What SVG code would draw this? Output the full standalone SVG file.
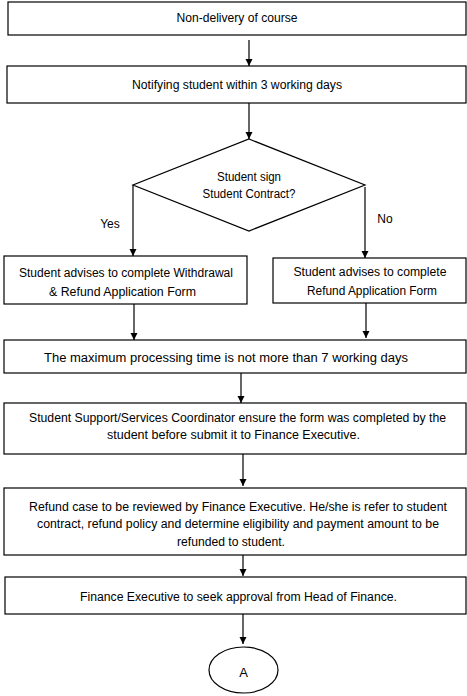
<svg xmlns="http://www.w3.org/2000/svg" width="467" height="696" viewBox="0 0 467 696">
<style>
.b{fill:#fff;stroke:#000;stroke-width:1.2}
.t{font-family:"Liberation Sans",Arial,sans-serif;font-size:12px;fill:#000;text-anchor:middle}
.c line{stroke:#000;stroke-width:1.2}
</style>
<defs>
<marker id="ah" viewBox="0 0 10 10" refX="10" refY="5" markerWidth="7" markerHeight="8" markerUnits="userSpaceOnUse" orient="auto">
<path d="M0,0 L10,5 L0,10 z" fill="#000"/>
</marker>
</defs>
<rect width="467" height="696" fill="#fff"/>
<g id="n1"><rect class="b" x="8" y="2" width="458" height="33"/><text class="t" x="237" y="22" textLength="121" lengthAdjust="spacingAndGlyphs">Non-delivery of course</text></g>
<g id="n2"><rect class="b" x="7" y="66" width="459" height="37"/><text class="t" x="237" y="89" textLength="210" lengthAdjust="spacingAndGlyphs">Notifying student within 3 working days</text></g>
<g id="n3"><polygon class="b" points="249,139 365,185 249,231 133,185"/><text class="t" x="249" y="181" textLength="64" lengthAdjust="spacingAndGlyphs">Student sign</text><text class="t" x="249" y="198" textLength="93" lengthAdjust="spacingAndGlyphs">Student Contract?</text></g>
<g id="n4"><rect class="b" x="4" y="256" width="243" height="48"/><text class="t" x="126" y="277" textLength="214" lengthAdjust="spacingAndGlyphs">Student advises to complete Withdrawal</text><text class="t" x="122.5" y="296" textLength="147" lengthAdjust="spacingAndGlyphs">&amp; Refund Application Form</text></g>
<g id="n5"><rect class="b" x="273" y="258" width="193" height="45"/><text class="t" x="370" y="276" textLength="153" lengthAdjust="spacingAndGlyphs">Student advises to complete</text><text class="t" x="372" y="295" textLength="130" lengthAdjust="spacingAndGlyphs">Refund Application Form</text></g>
<g id="n6"><rect class="b" x="4" y="340" width="462" height="33"/><text class="t" x="226" y="362" textLength="364" lengthAdjust="spacingAndGlyphs">The maximum processing time is not more than 7 working days</text></g>
<g id="n7"><rect class="b" x="4" y="403" width="462" height="51"/><text class="t" x="237.5" y="422" textLength="417" lengthAdjust="spacingAndGlyphs">Student Support/Services Coordinator ensure the form was completed by the</text><text class="t" x="233.5" y="439" textLength="253" lengthAdjust="spacingAndGlyphs">student before submit it to Finance Executive.</text></g>
<g id="n8"><rect class="b" x="4" y="488" width="462" height="67"/><text class="t" x="238" y="511" textLength="418" lengthAdjust="spacingAndGlyphs">Refund case to be reviewed by Finance Executive. He/she is refer to student</text><text class="t" x="238" y="528" textLength="402" lengthAdjust="spacingAndGlyphs">contract, refund policy and determine eligibility and payment amount to be</text><text class="t" x="231" y="546" textLength="108" lengthAdjust="spacingAndGlyphs">refunded to student.</text></g>
<g id="n9"><rect class="b" x="5" y="577" width="461" height="37"/><text class="t" x="238.5" y="601" textLength="317" lengthAdjust="spacingAndGlyphs">Finance Executive to seek approval from Head of Finance.</text></g>
<g id="n10"><ellipse class="b" cx="243.5" cy="670" rx="34.5" ry="23"/><text class="t" x="243.5" y="677" style="font-size:13px">A</text></g>
<g class="c" id="connectors">
<line x1="249" y1="40" x2="249" y2="66" marker-end="url(#ah)"/>
<line x1="249" y1="103" x2="249" y2="139" marker-end="url(#ah)"/>
<line x1="133" y1="185" x2="133" y2="256" marker-end="url(#ah)"/>
<line x1="365" y1="187" x2="365" y2="258" marker-end="url(#ah)"/>
<line x1="134" y1="304" x2="134" y2="340" marker-end="url(#ah)"/>
<line x1="366" y1="303" x2="366" y2="338" marker-end="url(#ah)"/>
<line x1="241" y1="373" x2="241" y2="403" marker-end="url(#ah)"/>
<line x1="243" y1="454" x2="243" y2="486" marker-end="url(#ah)"/>
<line x1="243" y1="555" x2="243" y2="576" marker-end="url(#ah)"/>
<line x1="243" y1="614" x2="243" y2="644" marker-end="url(#ah)"/>
<text class="t" x="110" y="228">Yes</text>
<text class="t" x="385" y="223">No</text>
</g>
</svg>
